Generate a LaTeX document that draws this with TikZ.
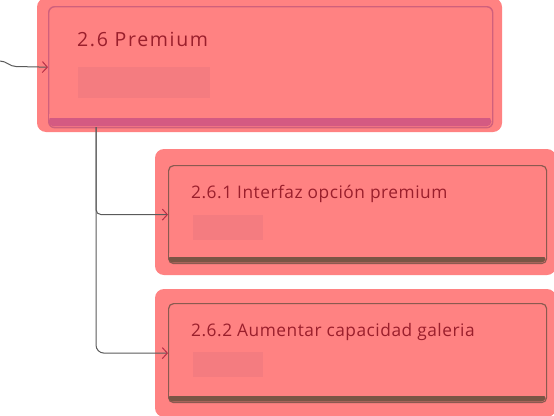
\documentclass[tikz,border=0pt]{standalone}
\usepackage{fontspec}
\setmainfont{Open Sans}
\usetikzlibrary{arrows.meta,calc}
\definecolor{pinkfill}{HTML}{FF8282}
\definecolor{phold}{HTML}{F47C80}
\definecolor{mainedge}{HTML}{D0607C}
\definecolor{mainband}{HTML}{D45A82}
\definecolor{childedge}{HTML}{8A5A50}
\definecolor{childband}{HTML}{7A5545}
\definecolor{txt}{HTML}{9A1F2C}
\definecolor{conn}{HTML}{5A5A5A}
\definecolor{tipc}{HTML}{B83048}
\tikzset{
  halo/.style={fill=pinkfill, rounded corners=9pt},
  boxmain/.style={draw=mainedge, line width=1.4pt, fill=pinkfill, rounded corners=6pt, anchor=north west, inner sep=0pt},
  boxchild/.style={draw=childedge, line width=1.2pt, fill=pinkfill, rounded corners=5pt, anchor=north west, inner sep=0pt},
  title/.style={anchor=base west, text=txt, inner sep=0pt},
  maintitle/.style={title, font=\fontsize{19.5}{22}\selectfont\addfontfeatures{LetterSpace=8.5}},
  childtitle/.style={title, font=\fontsize{17.3}{20}\selectfont\addfontfeatures{LetterSpace=3}},
  placeholder/.style={fill=phold},
  link/.style={draw=conn, line width=1pt, -{Straight Barb[length=5pt,width=11pt,color=tipc,line width=1pt]}}
}
\begin{document}
\begin{tikzpicture}[x=1pt,y=-1pt]
\useasboundingbox (0,0) rectangle (554,415);
% halos
\fill[halo] (37,-2) rectangle (502,132);
\fill[halo] (155,149) rectangle (556,275);
\fill[halo] (155,289) rectangle (556,417);
% main box
\node[boxmain, minimum width=444pt, minimum height=121pt] (main) at (48,6) {};
\fill[mainband, rounded corners=5pt] (48.6,116.5) rectangle (491.4,126.4);
\fill[pinkfill] (49.4,114) rectangle (490.6,117.5);
\node[maintitle] (mt) at (77,46) {2.6 Premium};
\fill[placeholder] (78,67) rectangle (210,98);
% child 1
\node[boxchild, minimum width=378pt, minimum height=98pt] (c1) at (168,165) {};
\fill[childband, rounded corners=4pt] (168.5,255.5) rectangle (545.5,262.5);
\fill[pinkfill] (169.2,253) rectangle (544.8,257);
\node[childtitle] (t1) at (191,198.5) {2.6.1 Interfaz opción premium};
\fill[placeholder] (193,215) rectangle (263,240);
% child 2
\node[boxchild, minimum width=378pt, minimum height=99pt] (c2) at (168,303) {};
\fill[childband, rounded corners=4pt] (168.5,394.5) rectangle (545.5,401.5);
\fill[pinkfill] (169.2,392) rectangle (544.8,396);
\node[childtitle] (t2) at (191,336.5) {2.6.2 Aumentar capacidad galeria};
\fill[placeholder] (193,352) rectangle (263,377);
% connectors
\coordinate (in) at (0,61);
\coordinate (trunk) at (96,127);
\draw[link] (in) to[out=0,in=180] (16,66.5) -- (main.west);
\draw[link, rounded corners=5pt] (trunk) |- (c1.west);
\draw[link, rounded corners=8pt] (trunk) |- (c2.west);
\end{tikzpicture}
\end{document}
